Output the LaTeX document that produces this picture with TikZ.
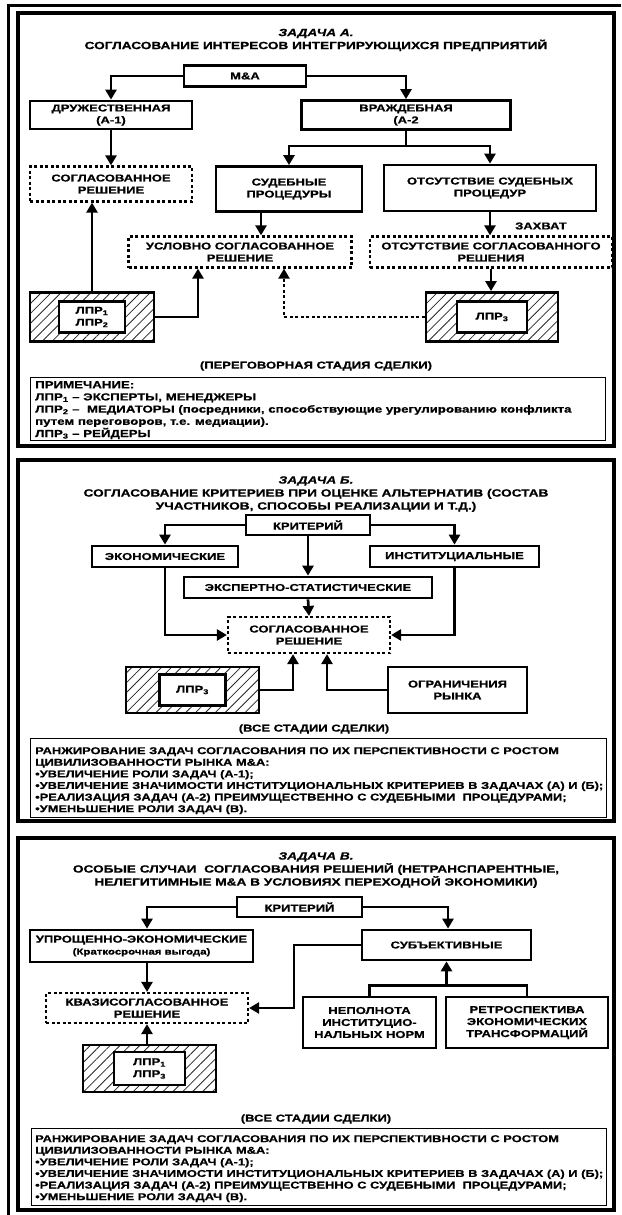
\documentclass[tikz,border=0pt]{standalone}
\usepackage{fontspec}
\setmainfont{Liberation Sans}[FakeStretch=1.3,BoldFeatures={FakeBold=0.8},BoldItalicFeatures={FakeBold=0.8}]
\usetikzlibrary{arrows.meta,patterns.meta}
\newcommand\sbs[1]{\textsubscript{#1}}
\begin{document}
\begin{tikzpicture}[x=1pt,y=-1pt,
  bx/.style={draw,line width=2.7pt,fill=white,align=center,inner sep=0pt,font=\fontsize{10}{12}\selectfont\bfseries},
  dbx/.style={bx,line width=2.2pt,dash pattern=on 3pt off 2.5pt},
  hatch/.style={draw,line width=2.7pt,inner sep=0pt,pattern={Lines[angle=45,distance=7pt,line width=0.8pt]},pattern color=black!85},
  ar/.style={line width=2.7pt,-{Triangle[length=10pt,width=11pt]}},
  dar/.style={ar,line width=2.2pt,dash pattern=on 3pt off 2.5pt},
  ln/.style={line width=2.7pt},
  ttl/.style={align=center,inner sep=0pt,font=\fontsize{10.5}{13}\selectfont\bfseries},
  lbl/.style={align=center,inner sep=0pt,font=\fontsize{10}{12}\selectfont\bfseries},
  txt/.style={align=left,inner sep=0pt,anchor=north west,font=\fontsize{9.9}{11.6}\selectfont\bfseries},
  ntxt/.style={txt,font=\fontsize{10.2}{12.2}\selectfont\bfseries},
  panel/.style={line width=3.6pt},
  thinbox/.style={line width=0.8pt}
]
\useasboundingbox (0,0) rectangle (621,1215);
% outer frame
\draw[line width=3pt] (8.5,1215) -- (8.5,6) -- (621,6);
% panels
\draw[panel] (18,13) rectangle (614,446);
\draw[panel] (18,460) rectangle (614,821);
\draw[panel] (18,838) rectangle (614,1210);

% ================= PANEL A =================
\node[ttl] (tA) at (316,40) {\itshape ЗАДАЧА А.\\СОГЛАСОВАНИЕ ИНТЕРЕСОВ ИНТЕГРИРУЮЩИХСЯ ПРЕДПРИЯТИЙ};
\node[bx,minimum width=122pt,minimum height=21pt] (ma) at (245,76) {M\&A};
\node[bx,minimum width=162pt,minimum height=28pt] (dr) at (111,115) {ДРУЖЕСТВЕННАЯ\\(А-1)};
\node[bx,minimum width=209pt,minimum height=29pt] (vr) at (406,115) {ВРАЖДЕБНАЯ\\(А-2};
\node[dbx,minimum width=162pt,minimum height=35pt] (sg1) at (111,184) {СОГЛАСОВАННОЕ\\РЕШЕНИЕ};
\node[bx,minimum width=146pt,minimum height=45pt] (sud) at (289,189) {СУДЕБНЫЕ\\ПРОЦЕДУРЫ};
\node[bx,minimum width=212pt,minimum height=46pt] (ots) at (490,188) {ОТСУТСТВИЕ СУДЕБНЫХ\\ПРОЦЕДУР};
\node[dbx,minimum width=223pt,minimum height=31pt] (usl) at (240,252) {УСЛОВНО СОГЛАСОВАННОЕ\\РЕШЕНИЕ};
\node[dbx,minimum width=242pt,minimum height=31pt] (otr) at (491,252) {ОТСУТСТВИЕ СОГЛАСОВАННОГО\\РЕШЕНИЯ};
\node[hatch,minimum width=124pt,minimum height=49pt] (h12) at (92,317) {};
\node[bx,minimum width=66pt,minimum height=31pt] (l12) at (h12) {ЛПР\sbs{1}\\ЛПР\sbs{2}};
\node[hatch,minimum width=132pt,minimum height=49pt] (h3) at (492,317) {};
\node[bx,minimum width=70pt,minimum height=31pt] (l3) at (h3) {ЛПР\sbs{3}};
\node[lbl] (zx) at (541,226) {ЗАХВАТ};
\node[lbl] (stA) at (316,366) {(ПЕРЕГОВОРНАЯ СТАДИЯ СДЕЛКИ)};
\draw[thinbox] (30,377) rectangle (605,440);
\node[ntxt] (noteA) at (35,381) {ПРИМЕЧАНИЕ:\\ЛПР\sbs{1} – ЭКСПЕРТЫ, МЕНЕДЖЕРЫ\\ЛПР\sbs{2} –\ \ МЕДИАТОРЫ (посредники, способствующие урегулированию конфликта\\путем переговоров, т.е. медиации).\\ЛПР\sbs{3} – РЕЙДЕРЫ};

\draw[ar] (ma.west) -| (dr.north);
\draw[ar] (ma.east) -| (vr.north);
\draw[ar] (dr.south) -- (sg1.north);
\draw[ln] (vr.south) -- ++(0,15) coordinate (vbr);
\draw[ar] (vbr) -| (sud.north);
\draw[ar] (vbr) -| (ots.north);
\draw[ar] ([xshift=-28pt]sud.south) -- ([xshift=-28pt]sud.south |- usl.north);
\draw[ar] (ots.south) -- (ots.south |- otr.north);
\draw[ar] (otr.south) -- (otr.south |- h3.north);
\draw[ar] (h12.north) -- (h12.north |- sg1.south);
\draw[ar] (h12.east) -| ([xshift=-42pt]usl.south);
\draw[dar] (h3.west) -| ([xshift=44pt]usl.south);

% ================= PANEL B =================
\node[ttl] (tB) at (316,494) {\itshape ЗАДАЧА Б.\\СОГЛАСОВАНИЕ КРИТЕРИЕВ ПРИ ОЦЕНКЕ АЛЬТЕРНАТИВ (СОСТАВ\\УЧАСТНИКОВ, СПОСОБЫ РЕАЛИЗАЦИИ И Т.Д.)};
\node[bx,minimum width=124pt,minimum height=20pt] (kr) at (308,525) {КРИТЕРИЙ};
\node[bx,minimum width=146pt,minimum height=21pt] (eco) at (165,556.5) {ЭКОНОМИЧЕСКИЕ};
\node[bx,minimum width=169pt,minimum height=21pt] (inst) at (454.5,556.5) {ИНСТИТУЦИАЛЬНЫЕ};
\node[bx,minimum width=248pt,minimum height=21pt] (exp) at (308,587.5) {ЭКСПЕРТНО-СТАТИСТИЧЕСКИЕ};
\node[dbx,minimum width=162pt,minimum height=36pt] (sg2) at (309,635) {СОГЛАСОВАННОЕ\\РЕШЕНИЕ};
\node[hatch,minimum width=133pt,minimum height=46pt] (hb) at (192.5,690) {};
\node[bx,minimum width=66pt,minimum height=31pt] (lb) at (hb) {ЛПР\sbs{3}};
\node[bx,minimum width=139pt,minimum height=46pt] (ogr) at (457.5,690) {ОГРАНИЧЕНИЯ\\РЫНКА};
\node[lbl] (stB) at (314,729) {(ВСЕ СТАДИИ СДЕЛКИ)};
\draw[thinbox] (30,738) rectangle (606,817);
\node[txt] (rankB) at (35,747) {РАНЖИРОВАНИЕ ЗАДАЧ СОГЛАСОВАНИЯ ПО ИХ ПЕРСПЕКТИВНОСТИ С РОСТОМ\\ЦИВИЛИЗОВАННОСТИ РЫНКА M\&A:\\•УВЕЛИЧЕНИЕ РОЛИ ЗАДАЧ (А-1);\\•УВЕЛИЧЕНИЕ ЗНАЧИМОСТИ ИНСТИТУЦИОНАЛЬНЫХ КРИТЕРИЕВ В ЗАДАЧАХ (А) И (Б);\\•РЕАЛИЗАЦИЯ ЗАДАЧ (А-2) ПРЕИМУЩЕСТВЕННО С СУДЕБНЫМИ\ \ ПРОЦЕДУРАМИ;\\•УМЕНЬШЕНИЕ РОЛИ ЗАДАЧ (В).};

\draw[ar] (kr.west) -| (eco.north);
\draw[ar] (kr.east) -| (inst.north);
\draw[ar] (kr.south) -- (exp.north);
\draw[ar] (exp.south) -- (sg2.north);
\draw[ar] (eco.south) |- (sg2.west);
\draw[ar] (inst.south) |- (sg2.east);
\draw[ar] (hb.east) -| ([xshift=-16pt]sg2.south);
\draw[ar] (ogr.west) -| ([xshift=18pt]sg2.south);

% ================= PANEL C =================
\node[ttl] (tC) at (316,870) {\itshape ЗАДАЧА В.\\ОСОБЫЕ СЛУЧАИ\ \ СОГЛАСОВАНИЯ РЕШЕНИЙ (НЕТРАНСПАРЕНТНЫЕ,\\НЕЛЕГИТИМНЫЕ M\&A В УСЛОВИЯХ ПЕРЕХОДНОЙ ЭКОНОМИКИ)};
\node[bx,minimum width=125pt,minimum height=20pt] (kr3) at (299.5,907) {КРИТЕРИЙ};
\node[bx,minimum width=223pt,minimum height=32pt] (upr) at (141.5,946) {УПРОЩЕННО-ЭКОНОМИЧЕСКИЕ\\{\fontsize{8.8}{10}\selectfont(Краткосрочная выгода)}};
\node[bx,minimum width=169pt,minimum height=30pt] (subj) at (446.5,945) {СУБЪЕКТИВНЫЕ};
\node[dbx,minimum width=202pt,minimum height=30pt] (kv) at (147,1008) {КВАЗИСОГЛАСОВАННОЕ\\РЕШЕНИЕ};
\node[bx,minimum width=133pt,minimum height=51pt] (nep) at (369.5,1022.5) {НЕПОЛНОТА\\ИНСТИТУЦИО-\\НАЛЬНЫХ НОРМ};
\node[bx,minimum width=162pt,minimum height=51pt] (ret) at (527,1022.5) {РЕТРОСПЕКТИВА\\ЭКОНОМИЧЕСКИХ\\ТРАНСФОРМАЦИЙ};
\node[hatch,minimum width=133pt,minimum height=47pt] (hc) at (149.5,1068.5) {};
\node[bx,minimum width=71pt,minimum height=33pt] (lc) at (hc) {ЛПР\sbs{1}\\ЛПР\sbs{3}};
\node[lbl] (stC) at (316,1119) {(ВСЕ СТАДИИ СДЕЛКИ)};
\draw[thinbox] (31,1128) rectangle (606,1205);
\node[txt] (rankC) at (35,1135) {РАНЖИРОВАНИЕ ЗАДАЧ СОГЛАСОВАНИЯ ПО ИХ ПЕРСПЕКТИВНОСТИ С РОСТОМ\\ЦИВИЛИЗОВАННОСТИ РЫНКА M\&A:\\•УВЕЛИЧЕНИЕ РОЛИ ЗАДАЧ (А-1);\\•УВЕЛИЧЕНИЕ ЗНАЧИМОСТИ ИНСТИТУЦИОНАЛЬНЫХ КРИТЕРИЕВ В ЗАДАЧАХ (А) И (Б);\\•РЕАЛИЗАЦИЯ ЗАДАЧ (А-2) ПРЕИМУЩЕСТВЕННО С СУДЕБНЫМИ\ \ ПРОЦЕДУРАМИ;\\•УМЕНЬШЕНИЕ РОЛИ ЗАДАЧ (В).};

\draw[ar] (kr3.west) -| (kv.north |- upr.north);
\draw[ar] (kr3.east) -| ([xshift=1.5pt]subj.north);
\draw[ar] (kv.north |- upr.south) -- (kv.north);
\draw[ar] (subj.west) -| ([xshift=45pt]kv.east) -- (kv.east);
\draw[ln] (nep.north) -- ++(0,-10) -| (ret.north);
\draw[ar] ([yshift=10pt]subj.south |- nep.north) -- (subj.south);
\draw[ar] (kv.south |- hc.north) -- (kv.south);
\end{tikzpicture}
\end{document}
